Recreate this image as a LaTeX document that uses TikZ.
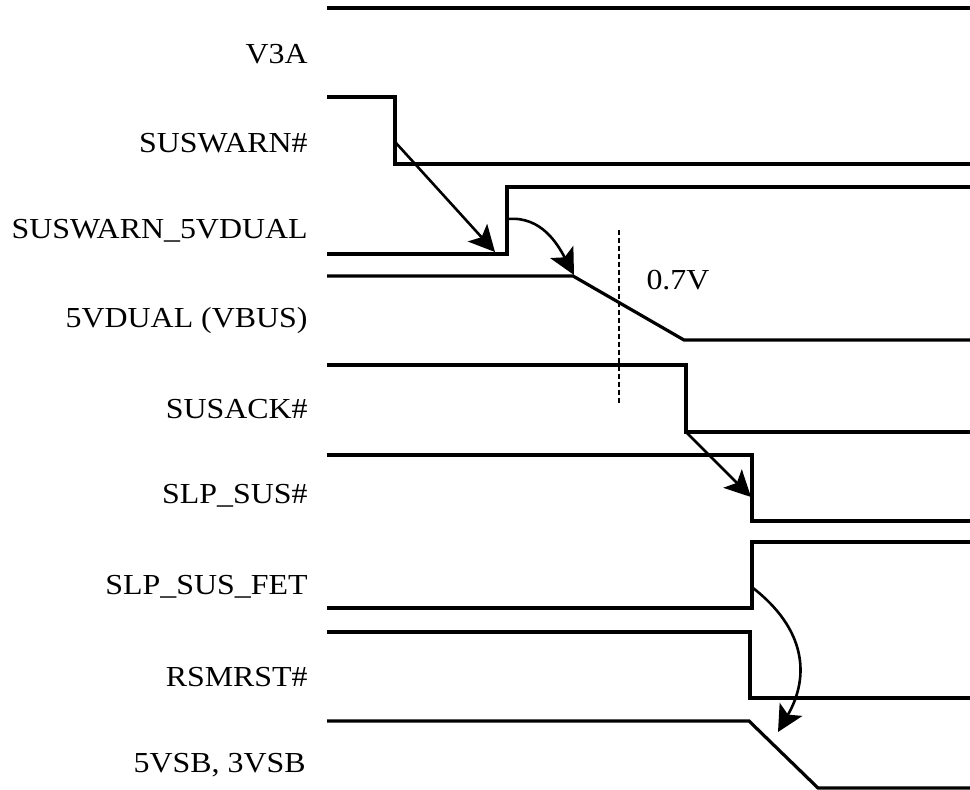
\documentclass[tikz,border=0pt]{standalone}
\usepackage{fontspec}
\setmainfont{Liberation Serif}[FakeStretch=1.1]
\usetikzlibrary{arrows.meta}
\newcommand{\mysize}{\fontsize{14.5}{16}\selectfont}
\tikzset{
    node style sig/.style={anchor=east,inner sep=0pt,font=\mysize},
    line style sig/.style={draw,line width=1.6pt,line join=miter},
    arrow style cause/.style={draw,line width=1.3pt,-{Stealth[length=13pt,width=13pt,inset=3pt]}},
    line style seuil/.style={draw,line width=1.2pt,dash pattern=on 2.5pt off 1.5pt},
}

\begin{document}
\begin{tikzpicture}[x=0.5pt,y=0.5pt]
\useasboundingbox (0,0) rectangle (970,-790);
% les noms des signaux
\node[node style sig] (L-V3A)    at (308,-54)  {V3A};
\node[node style sig] (L-SW)     at (308,-143) {SUSWARN\#};
\node[node style sig] (L-SWD)    at (308,-231) {SUSWARN\_5VDUAL};
\node[node style sig] (L-VDUAL)  at (308,-321) {5VDUAL (VBUS)};
\node[node style sig] (L-ACK)    at (308,-409) {SUSACK\#};
\node[node style sig] (L-SLP)    at (308,-496) {SLP\_SUS\#};
\node[node style sig] (L-FET)    at (308,-587) {SLP\_SUS\_FET};
\node[node style sig] (L-RSM)    at (308,-677) {RSMRST\#};
\node[node style sig] (L-VSB)    at (306,-765) {5VSB, 3VSB};
% les chronogrammes
\draw[line style sig] (327,-8) -- (970,-8);
\draw[line style sig] (327,-97) -- (395,-97) -- (395,-164) -- (970,-164);
\draw[line style sig] (327,-254) -- (507,-254) -- (507,-187) -- (970,-187);
\draw[line style sig] (327,-276) -- (573,-276) -- (684,-340) -- (970,-340);
\draw[line style sig] (327,-365) -- (686,-365) -- (686,-432) -- (970,-432);
\draw[line style sig] (327,-455) -- (752,-455) -- (752,-521) -- (970,-521);
\draw[line style sig] (327,-608) -- (752,-608) -- (752,-542) -- (970,-542);
\draw[line style sig] (327,-632) -- (750,-632) -- (750,-698) -- (970,-698);
\draw[line style sig] (327,-721) -- (749,-721) -- (818,-788) -- (970,-788);
% le seuil
\coordinate (S-top) at (619,-230);
\coordinate (S-bot) at (619,-405);
\draw[line style seuil] (S-top) -- (S-bot);
\node[inner sep=0pt,font=\mysize] (V07) at (678,-280) {0.7V};
% les fleches
\coordinate (SW-fall)  at (396,-143);
\coordinate (SWD-low)  at (495,-252);
\coordinate (SWD-rise) at (508,-219);
\coordinate (VD-fall)  at (574,-275);
\coordinate (ACK-fall) at (686,-432);
\coordinate (SLP-fall) at (751,-497);
\coordinate (FET-rise) at (753,-588);
\coordinate (VSB-fall) at (778,-732);
\draw[arrow style cause] (SW-fall) -- (SWD-low);
\draw[arrow style cause] (SWD-rise) to[out=5,in=118] (VD-fall);
\draw[arrow style cause] (ACK-fall) -- (SLP-fall);
\draw[arrow style cause] (FET-rise) to[out=-38,in=60,looseness=1.15] (VSB-fall);
\end{tikzpicture}
\end{document}
